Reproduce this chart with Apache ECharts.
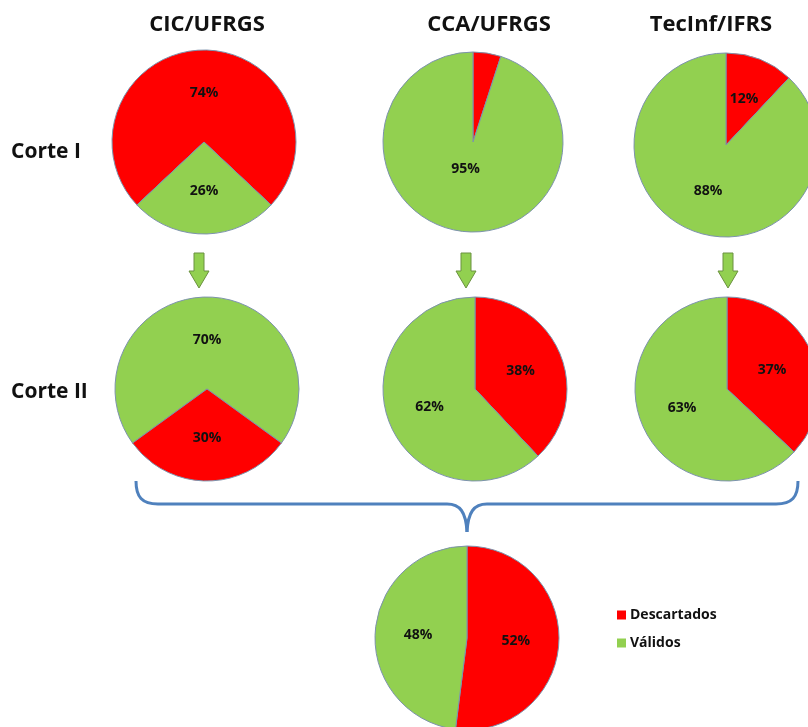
<!DOCTYPE html>
<html>
<head>
<meta charset="utf-8">
<title>Descartados x Válidos</title>
<script src="https://cdn.jsdelivr.net/npm/echarts@6/dist/echarts.min.js"></script>
<style>
  html, body { margin: 0; padding: 0; background: #ffffff; }
  #chart { width: 808px; height: 727px; }
</style>
</head>
<body>
<div id="chart"></div>
<script>
// Course groups (columns) and cut stages (rows)
const columns = ['CIC/UFRGS', 'CCA/UFRGS', 'TecInf/IFRS'];
const cuts = ['Corte I', 'Corte II'];
const categories = ['Descartados', 'Válidos'];

// Percentages per course, first cut
const descartadosCorteI = [74, 5, 12];
const validosCorteI = [26, 95, 88];

// Percentages per course, second cut
const descartadosCorteII = [30, 38, 37];
const validosCorteII = [70, 62, 63];

// Overall result
const descartadosTotal = 52;
const validosTotal = 48;

const RED = '#FF0000';
const GREEN = '#92D050';
const FONT = '"Open Sans", Lato, sans-serif';

// Layout of each pie: [cx, cy, r]
const layoutCorteI = [[204, 142, 92], [473, 142, 90], [726, 145, 92]];
const layoutCorteII = [[207, 389, 92], [475, 389, 92], [727, 389, 92]];
const layoutTotal = [467, 638, 92];

const baseLabel = {
  show: true,
  position: 'inside',
  formatter: '{c}%',
  color: '#111',
  fontFamily: FONT,
  fontWeight: 'bold',
  fontSize: 14
};

function pie(layout, startAngle, items) {
  return {
    type: 'pie',
    center: [layout[0], layout[1]],
    radius: [0, layout[2]],
    startAngle: startAngle,
    clockwise: true,
    avoidLabelOverlap: false,
    silent: true,
    label: baseLabel,
    labelLine: { show: false },
    itemStyle: { borderColor: '#7d93ad', borderWidth: 1 },
    data: items
  };
}

function item(name, value, extra) {
  return Object.assign({
    name: name,
    value: value,
    itemStyle: { color: name === categories[0] ? RED : GREEN }
  }, extra || {});
}

// A big slice keeps its label nearer the centre: an empty second line lifts it
const raisedLabel = {
  label: {
    formatter: '{c}%\n{gap|}',
    rich: { gap: { lineHeight: 40, fontSize: 14 } }
  }
};

const series = [];

// CIC pies: the first slice is centred on the top of the circle
{
  const d1 = descartadosCorteI[0];
  series.push(pie(layoutCorteI[0], 90 + d1 * 1.8, [
    item(categories[0], d1), item(categories[1], validosCorteI[0])
  ]));
  const v2 = validosCorteII[0];
  series.push(pie(layoutCorteII[0], 90 + v2 * 1.8, [
    item(categories[1], v2), item(categories[0], descartadosCorteII[0])
  ]));
}

// CCA and TecInf pies start at twelve o'clock with the discarded slice
for (let i = 1; i < columns.length; i++) {
  const smallSlice = descartadosCorteI[i] < 8;
  series.push(pie(layoutCorteI[i], 90, [
    item(categories[0], descartadosCorteI[i], smallSlice ? { label: { show: false } } : null),
    item(categories[1], validosCorteI[i], smallSlice ? raisedLabel : null)
  ]));
  series.push(pie(layoutCorteII[i], 90, [
    item(categories[0], descartadosCorteII[i]),
    item(categories[1], validosCorteII[i])
  ]));
}

// Overall pie
series.push(pie(layoutTotal, 90, [
  item(categories[0], descartadosTotal),
  item(categories[1], validosTotal)
]));

// Down arrows between the two cuts
const arrowX = [199, 466, 728];
const arrows = arrowX.map(function (x) {
  return {
    type: 'polygon',
    silent: true,
    shape: {
      points: [
        [x - 5, 253], [x + 5, 253], [x + 5, 271], [x + 10, 271],
        [x, 288], [x - 10, 271], [x - 5, 271]
      ]
    },
    style: { fill: GREEN, stroke: '#6b9140', lineWidth: 1 }
  };
});

// Curly brace joining the second-cut pies to the overall pie
const braceStyle = { fill: null, stroke: '#4f81bd', lineWidth: 3 };
function curve(x1, y1, c1x, c1y, c2x, c2y, x2, y2) {
  return {
    type: 'bezierCurve', silent: true,
    shape: { x1: x1, y1: y1, cpx1: c1x, cpy1: c1y, cpx2: c2x, cpy2: c2y, x2: x2, y2: y2 },
    style: braceStyle
  };
}
function segment(x1, y1, x2, y2) {
  return { type: 'line', silent: true, shape: { x1: x1, y1: y1, x2: x2, y2: y2 }, style: braceStyle };
}
const brace = [
  curve(136, 481, 136, 497, 142, 504, 158, 504),
  segment(158, 504, 447, 504),
  curve(447, 504, 460, 504, 466, 512, 467, 532),
  curve(467, 532, 468, 512, 474, 504, 487, 504),
  segment(487, 504, 776, 504),
  curve(776, 504, 792, 504, 798, 497, 798, 481)
];

function label(text, x, y, size, align) {
  return {
    type: 'text',
    silent: true,
    x: x,
    y: y,
    style: {
      text: text,
      fill: '#111',
      font: 'bold ' + size + 'px ' + FONT,
      align: align || 'center',
      verticalAlign: 'middle'
    }
  };
}

const titleX = [207, 489, 711];
const texts = columns.map(function (c, i) { return label(c, titleX[i], 25, 22); })
  .concat([
    label(cuts[0], 11, 152, 21, 'left'),
    label(cuts[1], 11, 392, 21, 'left')
  ]);

const chart = echarts.init(document.getElementById('chart'), null, { renderer: 'canvas' });
chart.setOption({
  animation: false,
  backgroundColor: '#ffffff',
  legend: {
    data: categories,
    orient: 'vertical',
    left: 612,
    top: 603,
    icon: 'rect',
    itemWidth: 9,
    itemHeight: 9,
    itemGap: 14,
    selectedMode: false,
    itemStyle: { borderWidth: 0 },
    textStyle: { color: '#111', fontFamily: FONT, fontWeight: 'bold', fontSize: 14, padding: [0, 0, 0, -1] }
  },
  graphic: arrows.concat(brace).concat(texts),
  series: series
});
</script>
</body>
</html>
